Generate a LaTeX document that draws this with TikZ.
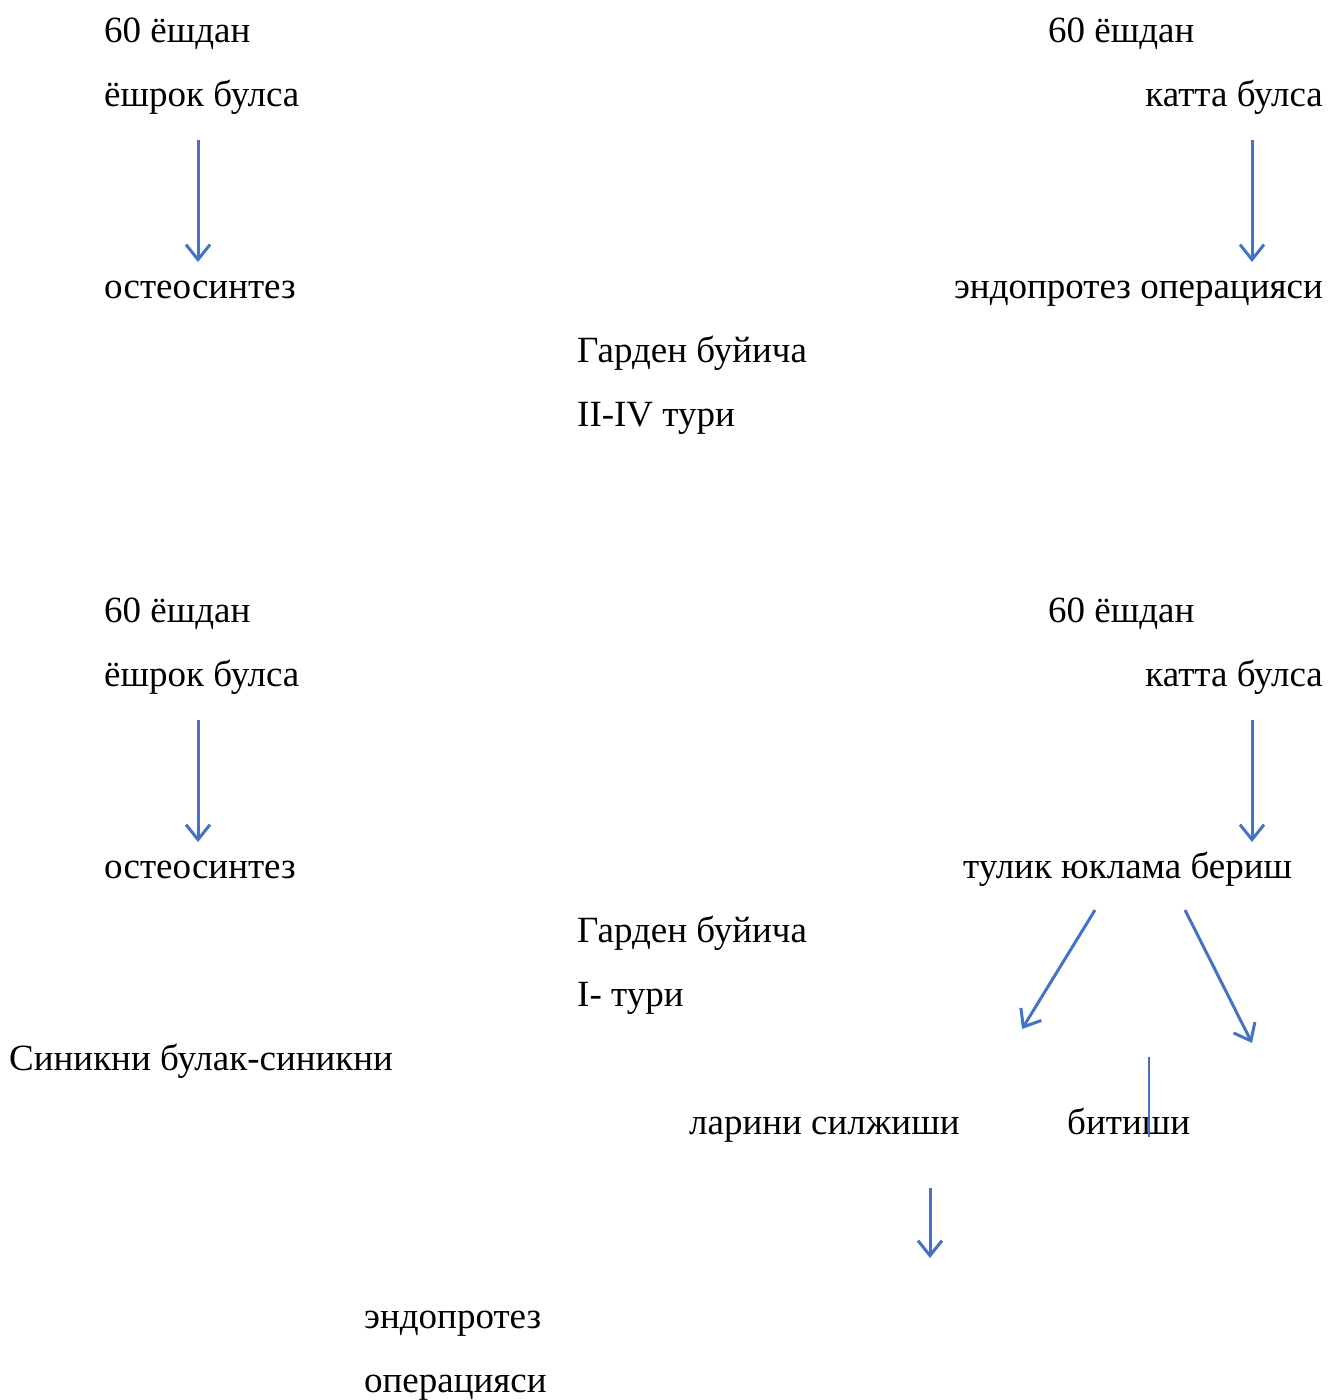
\documentclass[tikz,border=0pt]{standalone}
\usepackage{fontspec}
\setmainfont{Liberation Serif}
\usetikzlibrary{arrows.meta}
\definecolor{arrowblue}{HTML}{4472C4}
\tikzset{
  lbl/.style={inner sep=0pt, font=\fontsize{37}{44}\selectfont},
  lw/.style={lbl, anchor=base west},
  le/.style={lbl, anchor=base east},
  conn/.style={draw=arrowblue, line width=3pt, -{Straight Barb[length=15pt,width=24pt,line width=3pt]}},
  plainline/.style={draw=arrowblue, line width=2.5pt}
}
\begin{document}
\begin{tikzpicture}[x=1pt,y=-1pt]
\useasboundingbox (0,0) rectangle (1329,1400);
% top section
\node[lw] (a1) at (104,42) {60 ёшдан};
\node[lw] (a2) at (104,106) {ёшрок булса};
\node[lw] (a3) at (104,298) {остеосинтез};
\node[lw] (b1) at (1048,42) {60 ёшдан};
\node[le] (b2) at (1323,106) {катта булса};
\node[le] (b3) at (1323,298) {эндопротез операцияси};
\node[lw] (g1) at (577,362) {Гарден буйича};
\node[lw] (g2) at (577,426) {II-IV тури};
% bottom section
\node[lw] (c1) at (104,622) {60 ёшдан};
\node[lw] (c2) at (104,686) {ёшрок булса};
\node[lw] (c3) at (104,878) {остеосинтез};
\node[lw] (d1) at (1048,622) {60 ёшдан};
\node[le] (d2) at (1323,686) {катта булса};
\node[lw] (d3) at (963,878) {тулик юклама бериш};
\node[lw] (h1) at (577,942) {Гарден буйича};
\node[lw] (h2) at (577,1006) {I- тури};
\node[lw] (s1) at (9,1070) {Синикни булак-синикни};
\node[lw] (s2) at (689,1134) {ларини силжиши};
\node[lw] (s3) at (1067,1134) {битиши};
\node[lw] (e1) at (364,1328) {эндопротез};
\node[lw] (e2) at (364,1392) {операцияси};
% arrow endpoints
\coordinate (p1s) at (198,140); \coordinate (p1e) at (198,262);
\coordinate (p2s) at (1252,140); \coordinate (p2e) at (1252,262);
\coordinate (p3s) at (198,720); \coordinate (p3e) at (198,842);
\coordinate (p4s) at (1252,720); \coordinate (p4e) at (1252,842);
\coordinate (p5s) at (1095,910); \coordinate (p5e) at (1022,1029);
\coordinate (p6s) at (1185,910); \coordinate (p6e) at (1252,1043);
\coordinate (p7s) at (1149,1057); \coordinate (p7e) at (1149,1137);
\coordinate (p8s) at (930,1188); \coordinate (p8e) at (930,1258);
\draw[conn] (p1s) -- (p1e);
\draw[conn] (p2s) -- (p2e);
\draw[conn] (p3s) -- (p3e);
\draw[conn] (p4s) -- (p4e);
\draw[conn] (p5s) -- (p5e);
\draw[conn] (p6s) -- (p6e);
\draw[plainline] (p7s) -- (p7e);
\draw[conn] (p8s) -- (p8e);
\end{tikzpicture}
\end{document}
